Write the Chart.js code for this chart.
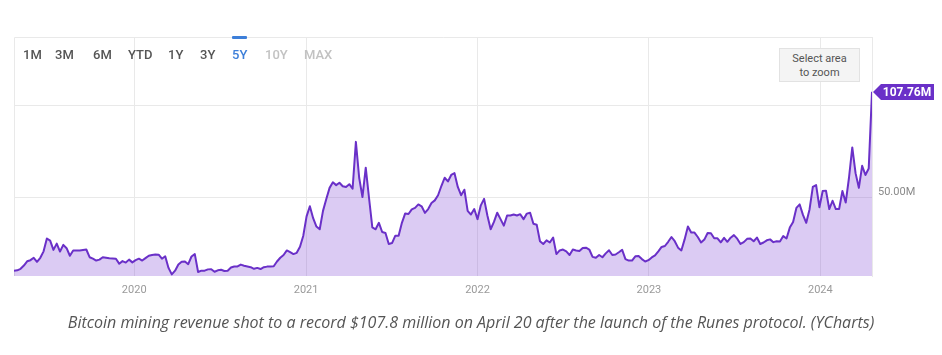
<!DOCTYPE html>
<html>
<head>
<meta charset="utf-8">
<script src="https://cdn.jsdelivr.net/npm/chart.js@4/dist/chart.umd.min.js"></script>
<style>
  html, body { margin: 0; padding: 0; background: #fff; }
  #wrap { position: relative; width: 942px; height: 355px; overflow: hidden; }
  #c { position: absolute; left: 0; top: 0; }
  .btn { position: absolute; top: 46px; font-family: Roboto, sans-serif; font-size: 13px; font-weight: 500; color: #555; line-height: 18px; }
  .btn.active { color: #3d7fd9; }
  .btn.dim { color: #c2c2c2; }
  #bar { position: absolute; left: 232px; top: 36px; width: 15px; height: 3px; background: #3d7fd9; border-radius: 1px; }
  #zoomhint { position: absolute; left: 779px; top: 48px; width: 81px; height: 34px; background: #f4f4f4; border: 1px solid #e2e2e2; font-family: Roboto, sans-serif; font-size: 11px; color: #555; text-align: center; line-height: 14px; padding-top: 3px; box-sizing: border-box; }
  #caption { position: absolute; left: 0; width: 942px; top: 311px; text-align: center; font-family: "Open Sans", sans-serif; font-style: italic; font-size: 16px; color: #555; line-height: 22px; white-space: nowrap; }
</style>
</head>
<body>
<div id="wrap">
  <canvas id="c" width="942" height="355"></canvas>
  <div id="bar"></div>
  <div id="buttons"></div>
  <div id="zoomhint">Select area<br>to zoom</div>
  <div id="caption"></div>
</div>
<script>
// ---- data ----
const START_DATE = '2019-04-20';   // first weekly observation
const STEP_DAYS = 7;               // weekly observations, last = 2024-04-20
// Bitcoin mining revenue, millions USD (weekly)
const REVENUE = [
  10.5, 10.7, 11.5, 13.3, 15.6, 16.2, 17.5, 15.3, 17.5, 21.0,
  28.0, 26.8, 21.8, 25.2, 20.9, 24.5, 22.7, 18.6, 21.5, 21.5,
  21.4, 21.7, 22.0, 17.8, 17.0, 16.0, 16.5, 17.8, 17.5, 17.2,
  17.1, 17.0, 14.3, 15.7, 14.9, 16.5, 15.0, 16.2, 17.0, 16.0,
  17.3, 18.6, 19.0, 19.3, 19.2, 17.0, 18.3, 12.0, 8.5, 10.5,
  13.8, 15.3, 15.5, 14.0, 18.2, 19.5, 9.8, 10.5, 10.5, 11.2,
  11.3, 9.9, 10.7, 11.0, 10.3, 10.5, 12.2, 12.8, 12.8, 13.8,
  13.2, 12.8, 12.4, 11.5, 12.0, 11.4, 12.4, 12.7, 12.7, 12.9,
  15.5, 17.5, 19.0, 21.5, 20.6, 19.5, 20.2, 23.5, 29.5, 40.0,
  45.5, 39.0, 34.5, 33.0, 43.0, 49.5, 55.5, 58.5, 57.0, 58.3,
  56.4, 56.0, 57.5, 55.0, 80.5, 61.0, 50.5, 66.5, 50.0, 34.0,
  33.0, 36.5, 31.5, 31.0, 25.0, 25.5, 29.5, 29.5, 36.5, 41.6,
  41.3, 43.8, 44.6, 46.5, 45.5, 41.9, 44.0, 47.3, 48.7, 51.5,
  56.5, 61.0, 59.0, 62.5, 63.5, 56.0, 51.5, 54.5, 43.0, 41.0,
  44.0, 38.5, 46.0, 49.5, 40.5, 33.0, 37.0, 42.0, 38.5, 35.0,
  40.5, 40.5, 41.0, 40.5, 41.2, 38.5, 41.5, 42.0, 36.0, 35.5,
  26.5, 25.0, 27.0, 25.8, 28.5, 19.5, 21.5, 22.0, 21.0, 19.0,
  22.0, 21.5, 21.2, 22.8, 23.0, 22.0, 18.0, 17.5, 19.0, 17.8,
  19.9, 21.6, 19.0, 19.3, 20.5, 21.8, 16.8, 16.0, 16.0, 18.3,
  18.5, 16.8, 15.5, 16.2, 17.7, 18.8, 21.0, 23.4, 23.9, 26.2,
  28.8, 26.5, 23.0, 21.5, 27.5, 34.5, 31.2, 31.2, 28.8, 25.8,
  27.4, 31.0, 30.8, 28.1, 28.1, 25.9, 28.3, 26.2, 28.4, 29.8,
  27.9, 25.0, 26.0, 27.8, 28.0, 26.5, 28.5, 25.0, 25.8, 27.0,
  27.5, 26.0, 26.5, 26.4, 29.3, 28.0, 33.9, 37.0, 44.6, 46.5,
  40.8, 36.5, 43.8, 56.0, 57.0, 45.0, 53.8, 54.0, 44.0, 48.5,
  44.0, 44.0, 53.8, 47.5, 61.0, 77.5, 63.5, 55.5, 67.5, 62.5,
  66.0, 107.76
];
const TICK_YEARS = ['2020', '2021', '2022', '2023', '2024'];
const Y_TICKS = [50, 100];
const Y_LABELS = ['50.00M', ''];
const RANGE_BUTTONS = ['1M', '3M', '6M', 'YTD', '1Y', '3Y', '5Y', '10Y', 'MAX'];
const ACTIVE_RANGE = '5Y';
const DIM_RANGES = ['10Y', 'MAX'];
const CAPTION = 'Bitcoin mining revenue shot to a record $107.8 million on April 20 after the launch of the Runes protocol. (YCharts)';

// ---- layout helpers (styles only) ----
const BTN_LEFT = [23, 55, 93, 128, 168, 200, 232, 265, 304];
const LINE_COLOR = '#6a30c8';
const FILL_COLOR = 'rgba(122, 62, 210, 0.27)';
const GRID_COLOR = '#e9e9e9';

const btnHost = document.getElementById('buttons');
RANGE_BUTTONS.forEach((t, i) => {
  const s = document.createElement('span');
  s.className = 'btn' + (t === ACTIVE_RANGE ? ' active' : '') + (DIM_RANGES.includes(t) ? ' dim' : '');
  s.style.left = BTN_LEFT[i] + 'px';
  s.textContent = t;
  btnHost.appendChild(s);
});
document.getElementById('caption').textContent = CAPTION;

const startMs = Date.parse(START_DATE + 'T00:00:00Z');
const DAY = 86400000;
const points = REVENUE.map((v, i) => ({ x: startMs + i * STEP_DAYS * DAY, y: v }));

const framePlugin = {
  id: 'frame',
  beforeDatasetsDraw(chart) {
    const { ctx, chartArea: a } = chart;
    ctx.save();
    ctx.strokeStyle = GRID_COLOR;
    ctx.lineWidth = 1;
    ctx.beginPath();
    ctx.moveTo(a.left + 0.5, a.bottom);
    ctx.lineTo(a.left + 0.5, a.top + 0.5);
    ctx.lineTo(a.right, a.top + 0.5);
    ctx.stroke();
    ctx.restore();
  },
  afterDatasetsDraw(chart) {
    const { ctx, chartArea: a } = chart;
    const meta = chart.getDatasetMeta(0);
    const pt = meta.data[meta.data.length - 1];
    const y = Math.round(pt.y);
    const x0 = a.right;
    ctx.save();
    ctx.fillStyle = LINE_COLOR;
    ctx.beginPath();
    ctx.moveTo(x0 + 1, y);
    ctx.lineTo(x0 + 9, y - 8);
    ctx.lineTo(x0 + 62, y - 8);
    ctx.lineTo(x0 + 62, y + 8);
    ctx.lineTo(x0 + 9, y + 8);
    ctx.closePath();
    ctx.fill();
    ctx.fillStyle = '#fff';
    ctx.font = 'bold 12px Roboto';
    ctx.textAlign = 'center';
    ctx.textBaseline = 'middle';
    ctx.fillText(REVENUE[REVENUE.length - 1].toFixed(2) + 'M', x0 + 35, y + 1);
    ctx.restore();
  }
};

Chart.defaults.font.family = 'Roboto';

new Chart(document.getElementById('c'), {
  type: 'line',
  data: {
    datasets: [{
      data: points,
      borderColor: LINE_COLOR,
      backgroundColor: FILL_COLOR,
      borderWidth: 2,
      fill: 'start',
      pointRadius: 0,
      tension: 0,
      borderJoinStyle: 'round'
    }]
  },
  options: {
    responsive: false,
    devicePixelRatio: 1,
    animation: false,
    layout: { padding: { left: 14, top: 37, right: 0, bottom: 0 } },
    plugins: { legend: { display: false }, tooltip: { enabled: false } },
    scales: {
      x: {
        type: 'linear',
        min: points[0].x,
        max: points[points.length - 1].x,
        afterBuildTicks: s => { s.ticks = TICK_YEARS.map(y => ({ value: Date.UTC(+y, 0, 1) })); },
        afterFit: s => { s.height = 79; },
        ticks: {
          autoSkip: false, maxRotation: 0, padding: 8,
          color: '#9a9a9a', font: { size: 11 },
          callback: (v, i) => TICK_YEARS[i]
        },
        grid: { color: GRID_COLOR, drawTicks: false },
        border: { display: false }
      },
      y: {
        position: 'right',
        min: 7.6,
        max: 137.5,
        afterBuildTicks: s => { s.ticks = Y_TICKS.map(v => ({ value: v })); },
        afterFit: s => { s.width = 70; },
        ticks: {
          padding: 6, labelOffset: -6,
          color: '#8a8a8a', font: { size: 11 },
          callback: (v, i) => Y_LABELS[i]
        },
        grid: { color: GRID_COLOR, drawTicks: false },
        border: { display: true, color: GRID_COLOR }
      }
    }
  },
  plugins: [framePlugin]
});
</script>
</body>
</html>
